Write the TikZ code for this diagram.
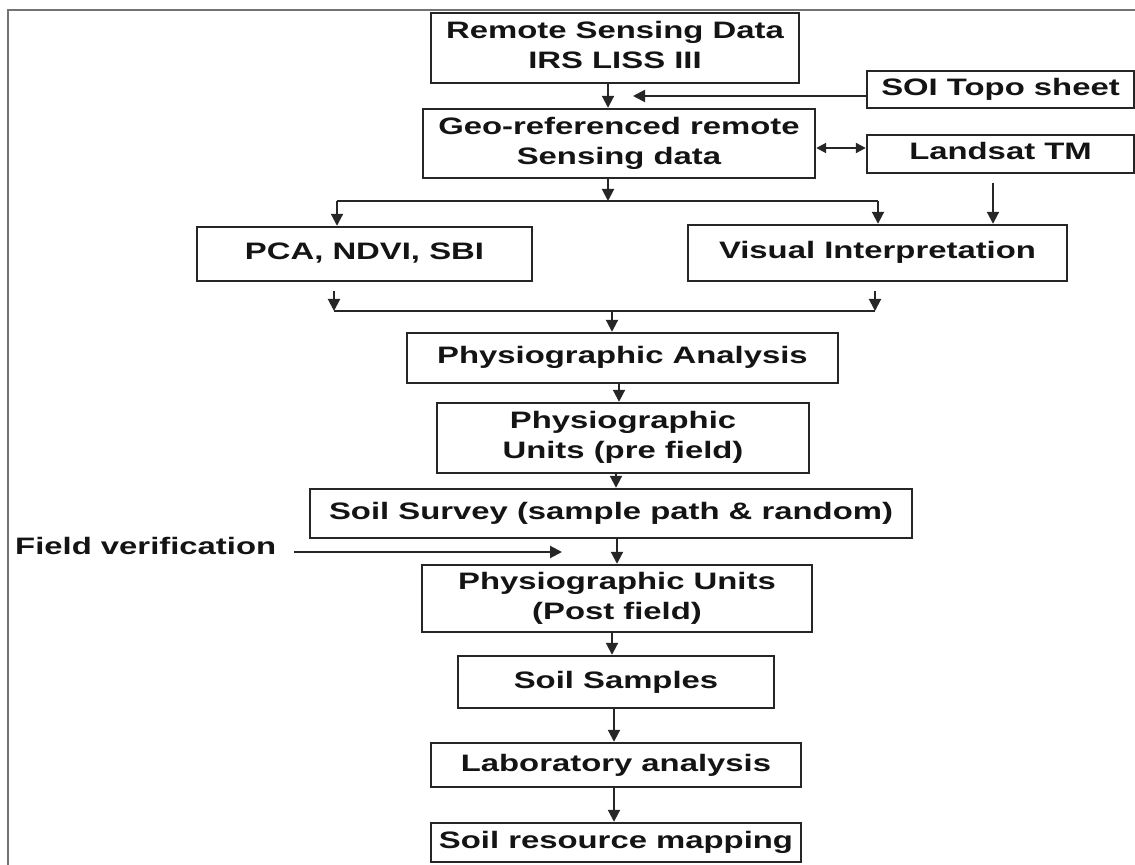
\documentclass[tikz,border=0pt]{standalone}
\usepackage{fontspec}
\setmainfont{Liberation Sans}
\usepackage{graphicx}
\usetikzlibrary{arrows.meta}
\newcommand{\wt}[2][0pt]{\raisebox{#1}{\scalebox{1.38}[1]{\begin{tabular}{@{}c@{}}#2\end{tabular}}}}
\begin{document}
\begin{tikzpicture}[x=0.5pt,y=-0.5pt,
  box/.style={draw=black!85, line width=1.2pt, inner sep=0pt, font=\fontsize{11.9}{15}\selectfont\bfseries, text=black!92},
  arr/.style={line width=1pt, draw=black!85, -{Triangle[length=6pt,width=6pt]}},
  dbl/.style={line width=1pt, draw=black!85, {Triangle[length=5pt,width=5pt]}-{Triangle[length=5pt,width=5pt]}},
  ln/.style={line width=1pt, draw=black!85},
  frame/.style={draw=black!55, line width=0.8pt}]
\useasboundingbox (0,0) rectangle (1135,865);
\draw[frame] (8,865) -- (8,10) -- (1135,10);

\node[box, minimum width=184pt, minimum height=35pt] (rsd) at (615,48) {\wt[-1.2pt]{Remote Sensing Data\\IRS LISS III}};
\node[box, minimum width=133.5pt, minimum height=18.5pt] (soi) at (1000.5,89.5) {\wt[-1.2pt]{SOI Topo sheet}};
\node[box, minimum width=196pt, minimum height=34.5pt] (geo) at (619,143.5) {\wt[-1.2pt]{Geo-referenced remote\\Sensing data}};
\node[box, minimum width=133.5pt, minimum height=19pt] (land) at (1000.5,154) {\wt[-1.2pt]{Landsat TM}};
\node[box, minimum width=167.5pt, minimum height=27pt] (pca) at (364.5,254) {\wt[-4.2pt]{PCA, NDVI, SBI}};
\node[box, minimum width=189.5pt, minimum height=28pt] (vis) at (877.5,253) {\wt[-3.7pt]{Visual Interpretation}};
\node[box, minimum width=215.5pt, minimum height=25pt] (pa) at (622.5,358) {\wt[1.5pt]{Physiographic Analysis}};
\node[box, minimum width=186pt, minimum height=35pt] (pre) at (623,438) {\wt[-1.2pt]{Physiographic\\Units (pre field)}};
\node[box, minimum width=301pt, minimum height=24.5pt] (ss) at (611,513.5) {\wt[1.2pt]{Soil Survey (sample path \& random)}};
\node[box, minimum width=195pt, minimum height=33.5pt] (post) at (617,598.5) {\wt[-0.5pt]{Physiographic Units\\(Post field)}};
\node[box, minimum width=158pt, minimum height=26pt] (samp) at (616,682) {\wt[2.3pt]{Soil Samples}};
\node[box, minimum width=185pt, minimum height=22pt] (lab) at (616,765) {\wt[0.3pt]{Laboratory analysis}};
\node[box, minimum width=185pt, minimum height=19.5pt] (map) at (616,842.5) {\wt[0.8pt]{Soil resource mapping}};
\node[box, draw=none, anchor=west] (fv) at (14,549) {\wt{Field verification}};

% connectors
\coordinate (c1) at (608,0);
\draw[arr] (rsd.south -| c1) -- (geo.north -| c1);
\coordinate (soitip) at (633,96);
\draw[arr] (soitip -| soi.west) -- (soitip);
\coordinate (dy) at (0,148);
\draw[dbl] (geo.east |- dy) -- (land.west |- dy);
\coordinate (split) at (608,201);
\draw[arr] (geo.south -| split) -- (split);
\coordinate (sl) at (337,201);
\coordinate (sr) at (878,201);
\draw[ln] (sl) -- (sr);
\draw[arr] (sl) -- (pca.north -| sl);
\draw[arr] (sr) -- (vis.north -| sr);
\coordinate (lx) at (993,0);
\draw[arr] (land.south -| lx) ++(0,9) -- (vis.north -| lx);
\coordinate (ml) at (334,311);
\coordinate (mr) at (875,311);
\draw[arr] (pca.south -| ml) ++(0,9) -- (ml);
\draw[arr] (vis.south -| mr) ++(0,9) -- (mr);
\draw[ln] (ml) -- (mr);
\coordinate (mj) at (612,311);
\draw[arr] (mj) -- (pa.north -| mj);
\coordinate (k1) at (619,0);
\draw[arr] (pa.south -| k1) -- (pre.north -| k1);
\coordinate (k2) at (616,0);
\draw[arr] (pre.south -| k2) -- (ss.north -| k2);
\coordinate (k3) at (617,0);
\draw[arr] (ss.south -| k3) -- (post.north -| k3);
\coordinate (k4) at (612,0);
\draw[arr] (post.south -| k4) -- (samp.north -| k4);
\coordinate (k5) at (614,0);
\draw[arr] (samp.south -| k5) -- (lab.north -| k5);
\draw[arr] (lab.south -| k5) -- (map.north -| k5);
\coordinate (fvtip) at (562,552);
\draw[arr] (fvtip -| fv.east) ++(17,0) -- (fvtip);
\end{tikzpicture}
\end{document}
